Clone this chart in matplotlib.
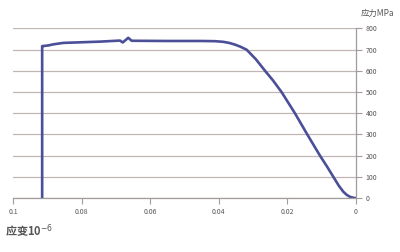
import matplotlib.pyplot as plt

plt.rcParams['font.family'] = ['Noto Sans CJK SC', 'DejaVu Sans']

# stress-strain curve
strain = [0.0, 0.0008, 0.00175, 0.0027, 0.0037, 0.005, 0.0066, 0.0085, 0.0105,
          0.0142, 0.0178, 0.0217, 0.0242, 0.0265, 0.0292, 0.0319, 0.0337,
          0.0353, 0.0370, 0.0387, 0.041, 0.045, 0.055, 0.0654, 0.0664, 0.0680,
          0.0688, 0.0746, 0.0853, 0.0883, 0.0897, 0.0913, 0.0915, 0.0915]
stress = [0, 1.5, 6, 15, 30, 58, 100, 150, 200,
          300, 400, 500, 555, 600, 655, 700, 714,
          724, 732, 737, 740, 741, 741, 742, 756, 734,
          743, 738, 732, 725, 720, 717, 717, 0]

x_ticks = [0.1, 0.08, 0.06, 0.04, 0.02, 0]
x_labels = ['0.1', '0.08', '0.06', '0.04', '0.02', '0']
y_ticks = [0, 100, 200, 300, 400, 500, 600, 700, 800]

grid_col = '#c2b6b2'
axis_col = '#a29c9a'
text_col = '#555555'

fig = plt.figure(figsize=(4, 2.52), dpi=100)
ax = fig.add_axes([0.0325, 0.214, 0.8575, 0.673])

ax.plot(strain, stress, color='#4a4f98', lw=1.9, solid_joinstyle='round',
        solid_capstyle='round')

ax.set_xlim(0.1, 0)
ax.set_ylim(0, 800)
ax.set_xticks(x_ticks)
ax.set_xticklabels(x_labels)
ax.set_yticks(y_ticks)

ax.yaxis.tick_right()
ax.grid(axis='y', color=grid_col, lw=0.9)
ax.set_axisbelow(True)

for s in ['top', 'left']:
    ax.spines[s].set_visible(False)
for s in ['right', 'bottom']:
    ax.spines[s].set_color(axis_col)
    ax.spines[s].set_linewidth(0.9)

ax.tick_params(axis='both', colors=axis_col, labelcolor=text_col,
               labelsize=5, length=4, width=0.8, pad=3)

fig.text(0.985, 0.945, '应力MPa', ha='right', va='center', fontsize=6,
         color=text_col)
fig.text(0.012, 0.08, '应变10$^{-6}$', ha='left', va='center', fontsize=8,
         color=text_col, fontweight='bold')

fig.savefig('out.png', dpi=100)
